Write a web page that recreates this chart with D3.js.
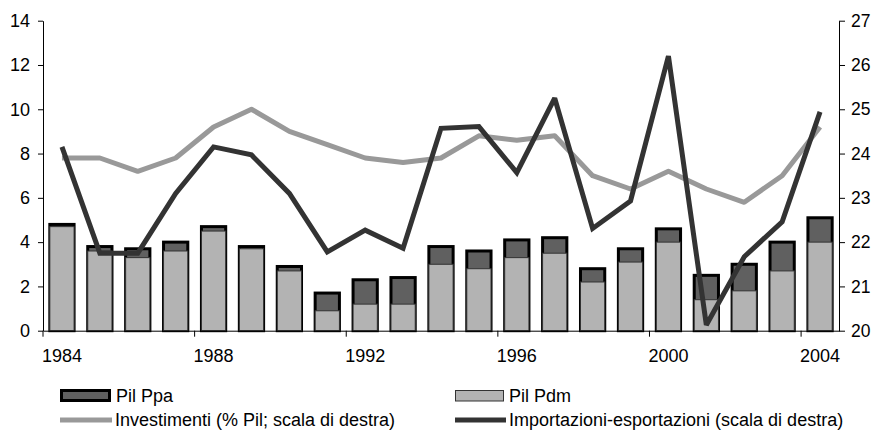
<!DOCTYPE html>
<html>
<head>
<meta charset="utf-8">
<script src="https://cdn.jsdelivr.net/npm/d3@7"></script>
<style>
  html, body { margin: 0; padding: 0; background: #fff; }
  svg { display: block; }
  text { font-family: "Liberation Sans", Arial, sans-serif; fill: #000; }
</style>
</head>
<body>
<svg id="chart" width="871" height="430"></svg>
<script>
// ---- data ----
const years = [1984,1985,1986,1987,1988,1989,1990,1991,1992,1993,1994,1995,1996,1997,1998,1999,2000,2001,2002,2003,2004];
const pilPpa = [4.8,3.8,3.7,4.0,4.7,3.8,2.9,1.7,2.3,2.4,3.8,3.6,4.1,4.2,2.8,3.7,4.6,2.5,3.0,4.0,5.1];
const pilPdm = [4.7,3.6,3.3,3.6,4.5,3.7,2.7,0.9,1.2,1.2,3.0,2.8,3.3,3.5,2.2,3.1,4.0,1.4,1.8,2.7,4.0];
const investimenti = [23.9,23.9,23.6,23.9,24.6,25.0,24.5,24.2,23.9,23.8,23.9,24.4,24.3,24.4,23.5,23.2,23.6,23.2,22.9,23.5,24.6];
const impEsp = [24.15,21.75,21.75,23.1,24.15,23.97,23.1,21.78,22.27,21.86,24.57,24.61,23.57,25.25,22.31,22.93,26.2,20.13,21.67,22.46,24.94];
const leftTicks = [0,2,4,6,8,10,12,14];
const rightTicks = [20,21,22,23,24,25,26,27];
const xLabelYears = [1984,1988,1992,1996,2000,2004];
const legendLabels = ["Pil Ppa","Pil Pdm","Investimenti (% Pil; scala di destra)","Importazioni-esportazioni (scala di destra)"];

(function () {
// ---- layout ----
const svg = d3.select("#chart");
const pLeft = 43, pRight = 839, pTop = 20.7, pBottom = 330.7;
const FONT = "18px";

const x = d3.scaleBand().domain(years).range([pLeft, pRight]).paddingInner(0.36).paddingOuter(0.18);
const yL = d3.scaleLinear().domain([0, 14]).range([pBottom, pTop]);
const yR = d3.scaleLinear().domain([20, 27]).range([pBottom, pTop]);
const cx = d => x(d) + x.bandwidth() / 2;

const rows = years.map((y, i) => ({year: y, ppa: pilPpa[i], pdm: pilPdm[i], inv: investimenti[i], ie: impEsp[i]}));

// ---- bars ----
const gBars = svg.append("g");
gBars.selectAll("rect.ppa").data(rows).join("rect")
  .attr("class", "ppa")
  .attr("x", d => x(d.year)).attr("width", x.bandwidth())
  .attr("y", d => yL(d.ppa)).attr("height", d => yL(0) - yL(d.ppa))
  .attr("fill", "#606060").attr("stroke", "#000").attr("stroke-width", 3);
gBars.selectAll("rect.pdm").data(rows).join("rect")
  .attr("class", "pdm")
  .attr("x", d => x(d.year)).attr("width", x.bandwidth())
  .attr("y", d => yL(d.pdm)).attr("height", d => yL(0) - yL(d.pdm))
  .attr("fill", "#b3b3b3").attr("stroke", "#333").attr("stroke-width", 1);

// ---- axes ----
const axL = svg.append("g").attr("transform", `translate(${pLeft},0)`)
  .call(d3.axisLeft(yL).tickValues(leftTicks).tickFormat(d3.format("d")).tickSize(5).tickSizeOuter(0).tickPadding(8));
const axR = svg.append("g").attr("transform", `translate(${pRight},0)`)
  .call(d3.axisRight(yR).tickValues(rightTicks).tickFormat(d3.format("d")).tickSize(6).tickSizeOuter(0).tickPadding(6));

const axB = svg.append("g").attr("transform", `translate(0,${pBottom})`)
  .call(d3.axisBottom(x).tickValues(xLabelYears).tickSize(0).tickSizeOuter(0).tickPadding(18.5));
axB.selectAll(".tick line").remove();
axB.selectAll(".tick").append("line")
  .attr("x1", -x.step() / 2).attr("x2", -x.step() / 2)
  .attr("y1", 0).attr("y2", 6)
  .attr("stroke", "#000");

[axL, axR, axB].forEach(a => {
  a.selectAll("text").style("font-size", FONT).style("font-family", '"Liberation Sans", Arial, sans-serif').attr("fill", "#000");
  a.selectAll("path.domain").attr("stroke", "#000");
  a.selectAll("line").attr("stroke", "#000");
});
axR.selectAll("text").style("font-size", "17.5px");

// ---- lines ----
const lineInv = d3.line().x(d => cx(d.year)).y(d => yR(d.inv));
const lineIE = d3.line().x(d => cx(d.year)).y(d => yR(d.ie));
svg.append("path").datum(rows).attr("d", lineInv)
  .attr("fill", "none").attr("stroke", "#999999").attr("stroke-width", 5).attr("stroke-linejoin", "round");
svg.append("path").datum(rows).attr("d", lineIE)
  .attr("fill", "none").attr("stroke", "#333333").attr("stroke-width", 5).attr("stroke-linejoin", "miter").attr("stroke-miterlimit", 2);

// ---- legend ----
const leg = svg.append("g");
const col = [60, 455];
const rowY = [395.5, 420];
leg.append("rect").attr("x", col[0] + 1.5).attr("y", rowY[0] - 5).attr("width", 48).attr("height", 10)
  .attr("fill", "#606060").attr("stroke", "#000").attr("stroke-width", 3);
leg.append("text").attr("x", 116).attr("y", rowY[0]).attr("dy", "0.35em").style("font-size", FONT).text(legendLabels[0]);
leg.append("rect").attr("x", col[1] + 0.5).attr("y", rowY[0] - 5).attr("width", 48).attr("height", 10.5)
  .attr("fill", "#b3b3b3").attr("stroke", "#333").attr("stroke-width", 1);
leg.append("text").attr("x", 509).attr("y", rowY[0]).attr("dy", "0.35em").style("font-size", FONT).text(legendLabels[1]);
leg.append("line").attr("x1", col[0]).attr("x2", 112).attr("y1", rowY[1]).attr("y2", rowY[1])
  .attr("stroke", "#999999").attr("stroke-width", 5);
leg.append("text").attr("x", 115).attr("y", rowY[1]).attr("dy", "0.35em").style("font-size", FONT).text(legendLabels[2]);
leg.append("line").attr("x1", col[1]).attr("x2", 506).attr("y1", rowY[1]).attr("y2", rowY[1])
  .attr("stroke", "#333333").attr("stroke-width", 5);
leg.append("text").attr("x", 509).attr("y", rowY[1]).attr("dy", "0.35em").style("font-size", FONT).text(legendLabels[3]);
})();
</script>
</body>
</html>
